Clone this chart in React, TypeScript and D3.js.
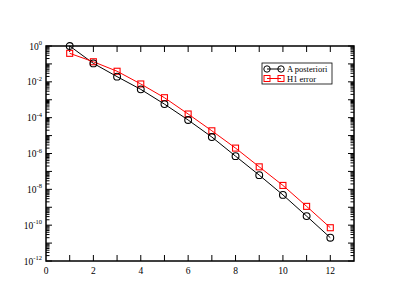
import React, { useRef, useEffect } from 'react'
import * as d3 from 'd3'

const iterations = [1, 2, 3, 4, 5, 6, 7, 8, 9, 10, 11, 12]
const aPosteriori = [1.0, 1.07e-1, 1.95e-2, 3.8e-3, 5.7e-4, 7.4e-5, 8.3e-6, 7.1e-7, 6.2e-8, 4.9e-9, 3.2e-10, 2.0e-11]
const h1Error = [3.9e-1, 1.32e-1, 3.9e-2, 7.6e-3, 1.3e-3, 1.6e-4, 1.85e-5, 2.0e-6, 1.8e-7, 1.65e-8, 1.12e-9, 7.2e-11]
const xTickLabels = [0, 2, 4, 6, 8, 10, 12]
const yTickExponents = [0, -2, -4, -6, -8, -10, -12]
const seriesNames = ['A posteriori', 'H1 error']

export default function App() {
  const visEl = useRef<HTMLDivElement>(null)
  const width = 399
  const height = 308

  useEffect(() => {
    const root = d3.select(visEl.current)
    root.selectAll('*').remove()
    const svg = root.append('svg')
      .attr('width', width)
      .attr('height', height)
      .style('position', 'absolute')
      .style('left', '0px')
      .style('top', '0px')
      .style('font-family', '"Liberation Serif", "DejaVu Serif", serif')

    const margin = { top: 46, right: 45, bottom: 47, left: 46 }
    const innerWidth = width - margin.left - margin.right
    const innerHeight = height - margin.top - margin.bottom

    const xScale = d3.scaleLinear().domain([0, 13]).range([0, innerWidth])
    const yScale = d3.scaleLog().domain([1e-12, 1]).range([innerHeight, 0])

    const g = svg.append('g')
      .attr('transform', `translate(${margin.left},${margin.top})`)

    // ticks, all pointing inward
    const minorY: number[] = []
    for (let e = -12; e < 0; e++) {
      for (let m = 2; m <= 9; m++) minorY.push(m * Math.pow(10, e))
    }
    const majorY = d3.range(-12, 1).map(e => Math.pow(10, e))
    const xTicks = d3.range(1, 13)

    const tickG = g.append('g').attr('stroke', 'black').attr('stroke-width', 1)
    ;[0, innerWidth].forEach((x0, i) => {
      const dir = i === 0 ? 1 : -1
      tickG.selectAll(null).data(majorY).enter().append('line')
        .attr('x1', x0).attr('x2', x0 + dir * 6)
        .attr('y1', d => yScale(d)).attr('y2', d => yScale(d))
      tickG.selectAll(null).data(minorY).enter().append('line')
        .attr('x1', x0).attr('x2', x0 + dir * 3.5)
        .attr('y1', d => yScale(d)).attr('y2', d => yScale(d))
    })
    ;[0, innerHeight].forEach((y0, i) => {
      const dir = i === 0 ? 1 : -1
      tickG.selectAll(null).data(xTicks).enter().append('line')
        .attr('y1', y0).attr('y2', y0 + dir * 6)
        .attr('x1', d => xScale(d)).attr('x2', d => xScale(d))
    })

    g.append('rect')
      .attr('width', innerWidth).attr('height', innerHeight)
      .attr('fill', 'none').attr('stroke', 'black').attr('stroke-width', 1.5)

    // tick labels
    g.selectAll(null).data(xTickLabels).enter().append('text')
      .attr('x', d => xScale(d)).attr('y', innerHeight + 13)
      .attr('text-anchor', 'middle').attr('font-size', 9.5)
      .text(d => d)

    const yl = g.selectAll(null).data(yTickExponents).enter().append('text')
      .attr('x', -4).attr('y', d => yScale(Math.pow(10, d)) + 3.5)
      .attr('text-anchor', 'end').attr('font-size', 9.5)
    yl.append('tspan').text('10')
    yl.append('tspan').attr('font-size', 6.5).attr('dy', -4.5).text(d => d)

    const line = d3.line<[number, number]>()
      .x(d => xScale(d[0])).y(d => yScale(d[1]))

    const blackPts: [number, number][] = iterations.map((x, i) => [x, aPosteriori[i]])
    const redPts: [number, number][] = iterations.map((x, i) => [x, h1Error[i]])

    g.append('path').attr('d', line(blackPts)).attr('fill', 'none')
      .attr('stroke', 'black').attr('stroke-width', 1)
    g.append('path').attr('d', line(redPts)).attr('fill', 'none')
      .attr('stroke', 'red').attr('stroke-width', 1)

    g.selectAll(null).data(redPts).enter().append('rect')
      .attr('x', d => xScale(d[0]) - 3).attr('y', d => yScale(d[1]) - 3)
      .attr('width', 6).attr('height', 6)
      .attr('fill', 'none').attr('stroke', 'red').attr('stroke-width', 1.1)
    g.selectAll(null).data(blackPts).enter().append('circle')
      .attr('cx', d => xScale(d[0])).attr('cy', d => yScale(d[1]))
      .attr('r', 3.4)
      .attr('fill', 'none').attr('stroke', 'black').attr('stroke-width', 1.1)

    // legend
    const lg = svg.append('g').attr('transform', 'translate(262,63)')
    lg.append('rect').attr('width', 70).attr('height', 21)
      .attr('fill', 'white').attr('stroke', 'black').attr('stroke-width', 0.8)
    seriesNames.forEach((name, i) => {
      const cy = 6 + i * 9.5
      const col = i === 0 ? 'black' : 'red'
      lg.append('line').attr('x1', 5).attr('x2', 19).attr('y1', cy).attr('y2', cy)
        .attr('stroke', col).attr('stroke-width', 1)
      ;[5, 19].forEach(cx => {
        if (i === 0) {
          lg.append('circle').attr('cx', cx).attr('cy', cy).attr('r', 3.2)
            .attr('fill', 'none').attr('stroke', col).attr('stroke-width', 1)
        } else {
          lg.append('rect').attr('x', cx - 3).attr('y', cy - 3).attr('width', 6).attr('height', 6)
            .attr('fill', 'none').attr('stroke', col).attr('stroke-width', 1)
        }
      })
      lg.append('text').attr('x', 25).attr('y', cy + 3).attr('font-size', 8.5)
        .text(name)
    })
  })

  return (
    <div>
      <div ref={visEl}></div>
    </div>
  )
}
